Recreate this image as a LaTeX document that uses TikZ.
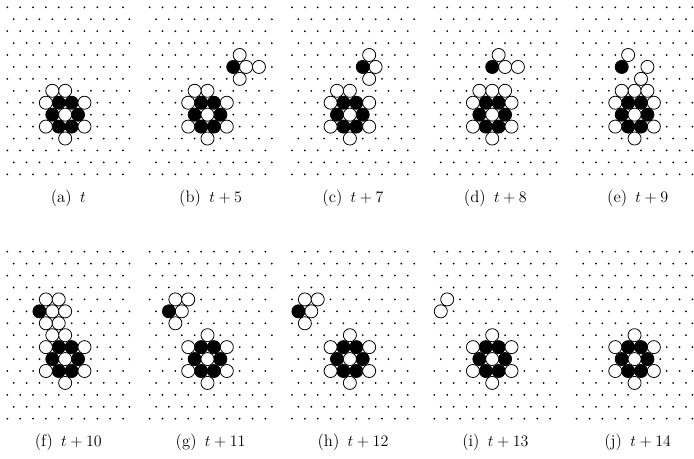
\documentclass[tikz,border=0pt]{standalone}
\usepackage{tikz}

\tikzset{
  wcell/.style={draw, fill=white, line width=0.6pt},
  bcell/.style={draw, fill=black, line width=0.6pt}
}
% circles at lattice sites (row/column) of one panel
\newcommand{\putcells}[4]{%
  \foreach \j/\k in {#4}
    \draw[#3] ({gx(#1,\k,\j)},{gy(#2,\j)}) circle (4.9pt);%
}
% the still life in the middle of every panel
\newcommand{\flower}[2]{%
  \putcells{#1}{#2}{bcell}{8/4,8/5,9/3,9/5,10/4,10/5}%
  \putcells{#1}{#2}{wcell}{7/4,8/3,8/6,9/4,10/3,10/6,11/4}%
}

\begin{document}
\begin{tikzpicture}[
    x=0.75pt, y=-0.75pt, line join=round,
    every node/.style={font=\fontsize{12.5}{15}\selectfont},
    declare function={
      gx(\p,\k,\j) = 7.3 + 142.35*\p + 12.86*\k + 6.43*mod(\j,2);
      gy(\q,\j) = 7.3 + 244.4*\q + 11.93*\j;
    }
  ]
  \clip (0,0) rectangle (694,459);

  % 1. LATTICE DOTS
  \foreach \p in {0,...,4}
    \foreach \q in {0,1}
      \foreach \j in {0,...,14}
        \foreach \k in {0,...,9}
          \fill ({gx(\p,\k,\j)},{gy(\q,\j)}) circle (0.75pt);

  % 2. PANELS (a)-(e)
  \flower{0}{0}
  \putcells{0}{0}{wcell}{7/3}

  \flower{1}{0}
  \putcells{1}{0}{wcell}{7/3,4/7,5/7,5/8,6/7}
  \putcells{1}{0}{bcell}{5/6}

  \flower{2}{0}
  \putcells{2}{0}{wcell}{7/3,4/6,5/6,6/6}
  \putcells{2}{0}{bcell}{5/5}

  \flower{3}{0}
  \putcells{3}{0}{wcell}{7/3,7/5,4/5,5/5,5/6}
  \putcells{3}{0}{bcell}{5/4}

  \flower{4}{0}
  \putcells{4}{0}{wcell}{7/3,7/5,4/4,5/5,6/5}
  \putcells{4}{0}{bcell}{5/3}

  % 3. PANELS (f)-(j)
  \flower{0}{1}
  \putcells{0}{1}{wcell}{7/3,4/3,4/4,5/3,5/4,6/3,6/4}
  \putcells{0}{1}{bcell}{5/2}

  \flower{1}{1}
  \putcells{1}{1}{wcell}{4/2,4/3,5/2,6/2}
  \putcells{1}{1}{bcell}{5/1}

  \flower{2}{1}
  \putcells{2}{1}{wcell}{4/1,4/2,5/1,6/1}
  \putcells{2}{1}{bcell}{5/0}

  \flower{3}{1}
  \putcells{3}{1}{wcell}{4/1,5/0}

  \flower{4}{1}

  % 4. CAPTIONS
  \node (cap-a) at ({gx(0,0,0)+61},198) {(a)\enspace$t$};
  \node (cap-b) at ({gx(1,0,0)+61},198) {(b)\enspace$t+5$};
  \node (cap-c) at ({gx(2,0,0)+61},198) {(c)\enspace$t+7$};
  \node (cap-d) at ({gx(3,0,0)+61},198) {(d)\enspace$t+8$};
  \node (cap-e) at ({gx(4,0,0)+61},198) {(e)\enspace$t+9$};
  \node (cap-f) at ({gx(0,0,0)+61},442) {(f)\enspace$t+10$};
  \node (cap-g) at ({gx(1,0,0)+61},442) {(g)\enspace$t+11$};
  \node (cap-h) at ({gx(2,0,0)+61},442) {(h)\enspace$t+12$};
  \node (cap-i) at ({gx(3,0,0)+61},442) {(i)\enspace$t+13$};
  \node (cap-j) at ({gx(4,0,0)+61},442) {(j)\enspace$t+14$};
\end{tikzpicture}
\end{document}
